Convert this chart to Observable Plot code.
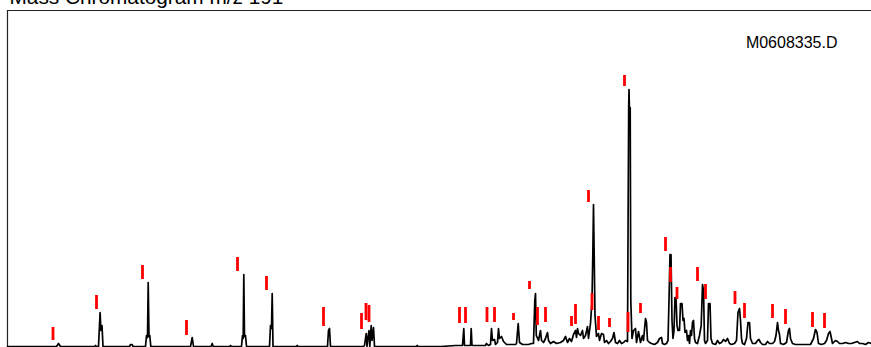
<!DOCTYPE html>
<html>
<head>
<meta charset="utf-8">
<script src="https://cdn.jsdelivr.net/npm/d3@7"></script>
<script src="https://cdn.jsdelivr.net/npm/@observablehq/plot@0.6"></script>
<style>
  html, body { margin: 0; padding: 0; background: #fff; }
  #chart { width: 871px; height: 347px; overflow: hidden; }
</style>
</head>
<body>
<div id="chart"></div>
<script>
const title = "Mass Chromatogram m/z 191";
const fileLabel = "M0608335.D";

// Retention time (scan units) and abundance of the m/z 191 trace
const rt = [7,56,58,60,94,95,96,98,99.6,100.4,101.5,102.5,129,130,131.5,132.5,
  145,146,147,147.7,148.5,149.3,150.3,190,191.7,193,210.5,211.7,212.7,229,230,231,
  241,242,242.7,243.3,244,245,246,269,270,271,271.7,272.5,296,296.7,297.5,
  327,328,329,330,363,364,365.7,366.5,367.5,368.5,369.3,370.7,371.5,373,374,
  416,416.7,417.5,440,455,462,463.3,464,470,470.7,471.5,
  485,486,488,490,491,492,494,495,497,498,499,501,503,506,
  515,516,517.7,519,522,525,528,531,533,534.3,535,535.8,538,540,541,543,545,547,548,550,553,556,560,563,565,567,569,571,573,575,576,577,578,580,582,583,585,587,588,590,591.5,592.3,593,593.7,594.5,596,598,599,601,603,604,606,608,610,612,613.5,615,617,619,621,623,625,627,627.7,628.2,628.5,628.9,629.7,630.3,631.5,633,635,636,638,640,642,643,645,646,647,649,651,654,657,659,661,662,664,666,667.5,668.5,669.5,670.5,671.5,672.5,673.5,674.5,675.5,676.5,677.5,679,680,681.5,682.5,683.5,684.5,686,687,688,689,690,691,692,693,694,695,697,699,700.7,701.5,702,703,704,705,707,708,709.5,710.5,712,715,717,719,721,723,725,727,729,731,734,736,737.5,739,740,741,742,744,746,747.5,749,750,752,755,757,758.5,760,762,765,767,769,772,774,775.5,777,778,779,780,783,786,788,789,790,792,795,800,805,810,813,815,816.5,818,821,824,826,828,829.5,831,832,835,837,839,842,845,848,851,854,857,859,862,865,868,871];
const abundance = [0,0,3,0,0,1,0,0,34,16,21,0,0,2,2,0,
  0,11,9,64,10,11,0,0,9,0,0,3,0,0,1,0,
  0,11,8,72,10,11,0,0,21,18,53,0,0,1,0,
  0,16,18,0,0,1,13,0,9,16,0,21,6,19,0,
  0,1,0,0,1,1,18,1,1,18,1,
  1,3,1,2,18,6,7,2,4,18,8,10,5,2,
  2,3,23,4,2,2,2,3,3,46,53,11,6,16,6,4,8,14,6,3,5,3,4,6,10,4,8,5,12,16,9,18,13,11,16,8,11,20,8,23,46,91,142,91,31,10,13,6,13,12,4,6,3,5,8,14,4,3,6,3,4,6,5,146,239,257,239,239,46,8,16,18,4,15,4,11,6,28,24,6,4,3,2,4,8,9,3,2,3,6,46,92,92,26,8,16,49,49,21,16,16,43,43,26,28,14,16,6,11,3,16,11,24,26,8,4,3,11,21,46,62,56,6,3,6,43,43,8,3,2,6,3,4,7,5,8,3,2,3,6,34,38,26,8,3,2,8,24,24,8,3,3,6,7,4,2,2,5,3,3,5,11,24,16,12,3,2,4,16,18,8,3,2,2,2,2,8,17,14,3,2,3,6,13,15,8,3,6,5,3,3,4,3,3,4,5,3,3,2,4,3];

// Red integration markers: retention time, low and high abundance
const markRt   = [52.5,96,142,186,237,266,323,361,365.5,368.5,459,465,486.5,494,513,529,537,545,571,575,588,591.5,598,609,624,627.5,640,665,670,676.5,697,705,734.5,744,772,785,812,824];
const markLow  = [6,37,67,11,75,56,20,17,26,24,23,23,24,24,26,57,21,24,20,22,144,36,16,19,260,14,33,95,64,47,65,47,42,28,28,22,19,18];
const markHigh = [19,51,81,26,89,70,39,33,43,41,39,39,39,39,33,65,39,39,30,42,156,53,30,28,271,34,43,109,79,59,79,62,55,43,42,37,34,33];

const trace = rt.map((t, i) => ({t, a: abundance[i]}));
const markers = markRt.map((t, i) => ({t, lo: markLow[i], hi: markHigh[i]}));

const chart = Plot.plot({
  width: 871,
  height: 347,
  marginLeft: 7,
  marginRight: 0,
  marginTop: 10,
  marginBottom: 1,
  style: {background: "#fff", fontFamily: "'Liberation Sans', Arial, sans-serif", overflow: "hidden"},
  x: {domain: [7, 871], axis: null},
  y: {domain: [0, 336], axis: null},
  marks: [
    Plot.frame({anchor: "top", stroke: "#222", strokeWidth: 1.2}),
    Plot.frame({anchor: "left", stroke: "#222", strokeWidth: 1.2}),
    Plot.line(trace, {x: "t", y: "a", stroke: "#000", strokeWidth: 1.7, curve: "linear"}),
    Plot.ruleX(markers, {x: "t", y1: "lo", y2: "hi", stroke: "#ff0000", strokeWidth: 2.8}),
    Plot.text([title], {text: d => d, frameAnchor: "top-left", textAnchor: "start", lineAnchor: "bottom", dx: 2, dy: -7, fontSize: 20.8, fill: "#000"}),
    Plot.text([fileLabel], {text: d => d, frameAnchor: "top-right", textAnchor: "end", lineAnchor: "bottom", dx: -34, dy: 37, fontSize: 16, fill: "#000"})
  ]
});
document.getElementById("chart").appendChild(chart);
</script>
</body>
</html>
